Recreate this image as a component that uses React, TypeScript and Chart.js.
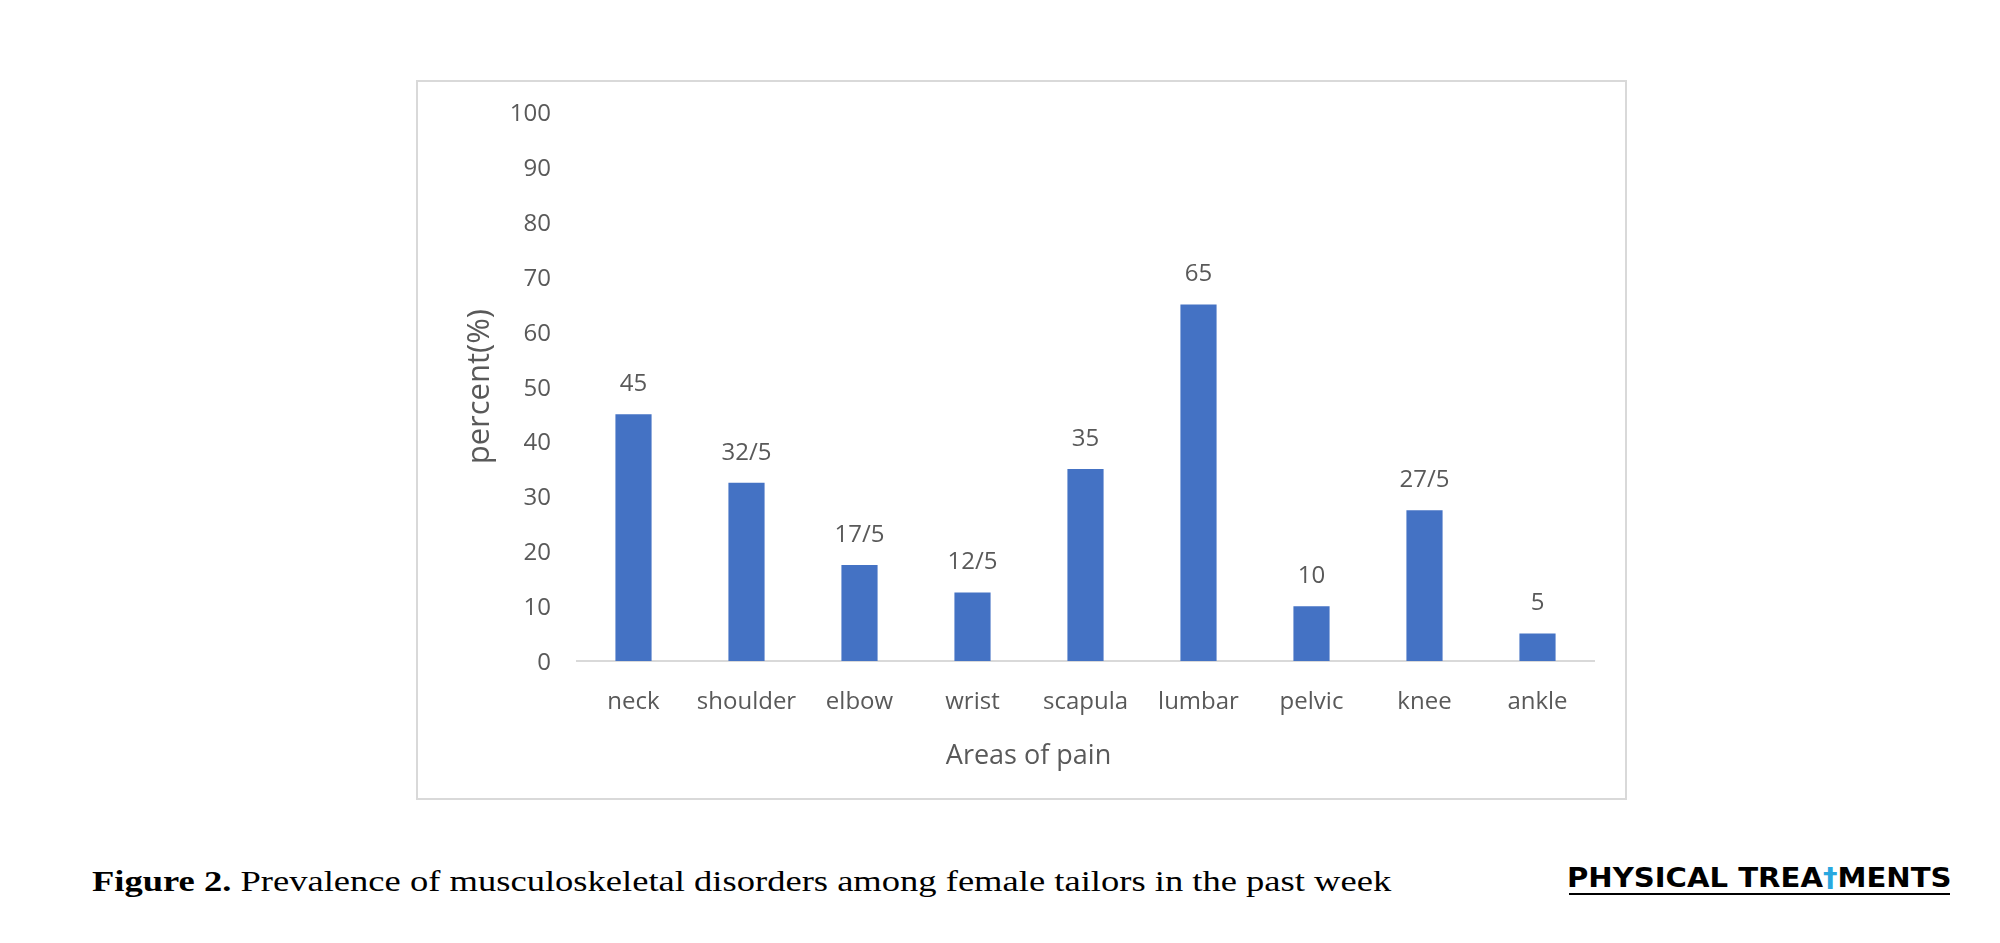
import React, { useEffect, useRef } from "react";
import { Chart, registerables } from "chart.js";

Chart.register(...registerables);

const categories = ["neck", "shoulder", "elbow", "wrist", "scapula", "lumbar", "pelvic", "knee", "ankle"];
const values = [45, 32.5, 17.5, 12.5, 35, 65, 10, 27.5, 5];
const valueLabels = ["45", "32/5", "17/5", "12/5", "35", "65", "10", "27/5", "5"];
const yMin = 0;
const yMax = 100;
const yStep = 10;
const yTitle = "percent(%)";
const xTitle = "Areas of pain";
const captionBold = "Figure 2.";
const captionText = " Prevalence of musculoskeletal disorders among female tailors in the past week";
const logoStart = "PHYSICAL TREA";
const logoIcon = "\u2020";
const logoEnd = "MENTS";

const TEXT = "#595959";
const BAR = "#4472C4";
const FONT = '"Open Sans", sans-serif';

const valueLabelPlugin = {
  id: "valueLabels",
  afterDatasetsDraw(chart: any) {
    const meta = chart.getDatasetMeta(0);
    const ctx = chart.ctx;
    ctx.save();
    ctx.font = `24px ${FONT}`;
    ctx.fillStyle = TEXT;
    ctx.textAlign = "center";
    ctx.textBaseline = "middle";
    meta.data.forEach((bar: any, i: number) => {
      ctx.fillText(valueLabels[i], bar.x, bar.y - 30);
    });
    // x-axis title, centred on the whole chart frame as in the original
    ctx.font = `27px ${FONT}`;
    ctx.fillText(xTitle, chart.width / 2 + 7, 676);
    ctx.restore();
  },
};

function BarChart() {
  const ref = useRef<HTMLCanvasElement | null>(null);
  useEffect(() => {
    if (!ref.current) return;
    const chart = new Chart(ref.current, {
      type: "bar",
      data: {
        labels: categories,
        datasets: [
          {
            data: values,
            backgroundColor: BAR,
            borderWidth: 0,
            categoryPercentage: 1,
            barPercentage: 0.32,
          },
        ],
      },
      options: {
        animation: false,
        responsive: false,
        devicePixelRatio: 1,
        layout: { padding: { left: 0, right: 33, top: 27, bottom: 0 } },
        plugins: { legend: { display: false }, tooltip: { enabled: false } },
        scales: {
          x: {
            grid: { display: false },
            border: { display: true, color: "#d9d9d9", width: 2 },
            ticks: { color: TEXT, font: { family: FONT, size: 24 }, padding: 19, maxRotation: 0 },
            title: { display: false, text: xTitle },
            afterFit(scale: any) {
              scale.height = 139;
            },
          },
          y: {
            min: yMin,
            max: yMax,
            grid: { display: false },
            border: { display: false },
            ticks: { stepSize: yStep, color: TEXT, font: { family: FONT, size: 24 }, padding: 18, labelOffset: 2 },
            title: {
              display: true,
              text: yTitle,
              color: TEXT,
              font: { family: FONT, size: 31 },
              padding: { top: 46, bottom: 0 },
            },
            afterFit(scale: any) {
              scale.width = 161;
            },
          },
        },
      },
      plugins: [valueLabelPlugin],
    });
    return () => chart.destroy();
  }, []);
  return <canvas ref={ref} width={1211} height={720} style={{ position: "absolute", left: -2, top: -2, width: 1211, height: 720 }} />;
}

export default function App() {
  return (
    <div style={{ position: "absolute", left: 0, top: 0, width: 2000, height: 943, background: "#fff", overflow: "hidden" }}>
      <div
        style={{
          position: "absolute",
          left: 416,
          top: 80,
          width: 1211,
          height: 720,
          border: "2px solid #d9d9d9",
          boxSizing: "border-box",
        }}
      >
        <BarChart />
      </div>
      <div
        style={{
          position: "absolute",
          left: 92,
          top: 867,
          fontFamily: '"Liberation Serif", serif',
          fontSize: 29,
          lineHeight: 1,
          color: "#000",
          whiteSpace: "nowrap",
          transform: "scaleX(1.26)",
          transformOrigin: "0 0",
        }}
      >
        <b>{captionBold}</b>
        {captionText}
      </div>
      <div
        style={{
          position: "absolute",
          left: 1567,
          top: 865,
          fontFamily: '"DejaVu Sans", sans-serif',
          fontWeight: "bold",
          fontSize: 26,
          lineHeight: 1,
          color: "#000",
          whiteSpace: "nowrap",
          transform: "scaleX(1.12)",
          transformOrigin: "0 0",
        }}
      >
        {logoStart}
        <span style={{ color: "#29a8df" }}>{logoIcon}</span>
        {logoEnd}
      </div>
      <div style={{ position: "absolute", left: 1569, top: 893, width: 381, height: 2, background: "#000" }} />
    </div>
  );
}
